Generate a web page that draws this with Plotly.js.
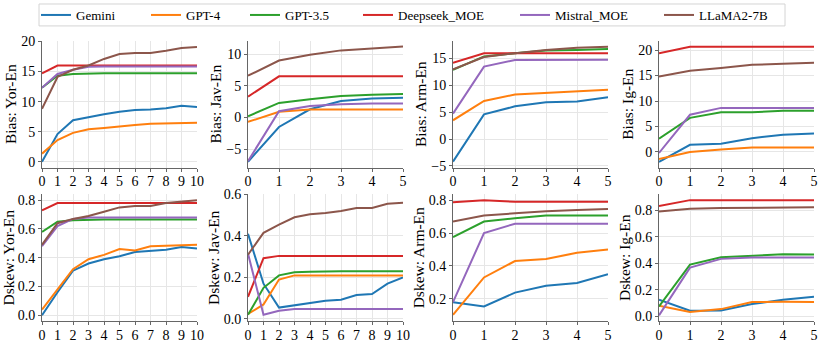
<!DOCTYPE html>
<html>
<head>
<meta charset="utf-8">
<script src="https://cdn.plot.ly/plotly-3.0.1.min.js"></script>
<style>
  body { margin: 0; background: #fff; }
  #chart { width: 822px; height: 342px; }
</style>
</head>
<body>
<div id="chart"></div>
<script>
const models = ['Gemini', 'GPT-4', 'GPT-3.5', 'Deepseek_MOE', 'Mistral_MOE', 'LLaMA2-7B'];
const colors = ['#1f77b4', '#ff7f0e', '#2ca02c', '#d62728', '#9467bd', '#8c564b'];

const steps10 = [0, 1, 2, 3, 4, 5, 6, 7, 8, 9, 10];
const steps5 = [0, 1, 2, 3, 4, 5];

// one row per model, same order as `models`
const biasYorEn = [
  [0, 4.6, 6.9, 7.45, 7.9, 8.3, 8.6, 8.7, 8.9, 9.3, 9.1],
  [1.35, 3.6, 4.8, 5.4, 5.6, 5.9, 6.1, 6.3, 6.4, 6.45, 6.5],
  [12.3, 14.3, 14.6, 14.7, 14.7, 14.7, 14.7, 14.7, 14.7, 14.7, 14.7],
  [14.7, 16, 16, 16, 16, 16, 16, 16, 16, 16, 16],
  [12.3, 14.6, 15.3, 15.8, 15.85, 15.85, 15.85, 15.85, 15.85, 15.85, 15.85],
  [8.8, 14.1, 15.3, 16.0, 17.1, 17.9, 18.1, 18.1, 18.45, 18.9, 19.1]
];

const biasJavEn = [
  [-7.0, -1.5, 1.3, 2.6, 3.0, 3.1],
  [-0.7, 0.9, 1.25, 1.25, 1.25, 1.25],
  [0.2, 2.3, 2.9, 3.4, 3.6, 3.7],
  [3.3, 6.5, 6.5, 6.5, 6.5, 6.5],
  [-6.9, 1.0, 1.8, 2.1, 2.2, 2.2],
  [6.6, 9.0, 9.9, 10.6, 10.9, 11.2]
];

const biasArmEn = [
  [-4.2, 4.6, 6.1, 6.85, 7.0, 7.8],
  [3.5, 7.1, 8.3, 8.6, 9.0, 9.2],
  [12.9, 15.4, 16.0, 16.5, 16.6, 16.8],
  [14.2, 16.0, 16.0, 16.0, 16.0, 16.0],
  [4.75, 13.5, 14.75, 14.8, 14.8, 14.8],
  [13.0, 15.3, 16.0, 16.6, 17.0, 17.2]
];

const biasIgEn = [
  [-1.95, 1.4, 1.6, 2.7, 3.4, 3.6],
  [-1.4, 0, 0.5, 0.9, 0.9, 0.9],
  [2.6, 6.7, 7.8, 7.8, 8.1, 8.1],
  [19.35, 20.65, 20.65, 20.65, 20.65, 20.65],
  [-0.2, 7.3, 8.65, 8.65, 8.65, 8.65],
  [14.8, 15.95, 16.5, 17.1, 17.3, 17.5]
];

const dskewYorEn = [
  [0.0, 0.16, 0.31, 0.36, 0.39, 0.41, 0.44, 0.45, 0.455, 0.475, 0.465],
  [0.04, 0.18, 0.32, 0.39, 0.42, 0.46, 0.45, 0.48, 0.485, 0.49, 0.49],
  [0.58, 0.65, 0.66, 0.665, 0.665, 0.665, 0.665, 0.665, 0.665, 0.665, 0.665],
  [0.73, 0.78, 0.78, 0.78, 0.78, 0.78, 0.78, 0.78, 0.78, 0.78, 0.78],
  [0.48, 0.62, 0.67, 0.68, 0.68, 0.68, 0.68, 0.68, 0.68, 0.68, 0.68],
  [0.49, 0.64, 0.67, 0.69, 0.72, 0.75, 0.76, 0.76, 0.78, 0.79, 0.80]
];

const dskewJavEn = [
  [0.41, 0.17, 0.055, 0.065, 0.075, 0.088, 0.093, 0.115, 0.12, 0.17, 0.2],
  [0.024, 0.07, 0.19, 0.21, 0.21, 0.21, 0.21, 0.21, 0.21, 0.21, 0.21],
  [0.02, 0.15, 0.21, 0.225, 0.228, 0.23, 0.23, 0.23, 0.23, 0.23, 0.23],
  [0.107, 0.293, 0.304, 0.304, 0.304, 0.304, 0.304, 0.304, 0.304, 0.304, 0.304],
  [0.315, 0.02, 0.04, 0.048, 0.048, 0.048, 0.048, 0.048, 0.048, 0.048, 0.048],
  [0.31, 0.415, 0.455, 0.49, 0.505, 0.51, 0.52, 0.535, 0.535, 0.555, 0.56]
];

const dskewArmEn = [
  [0.18, 0.154, 0.238, 0.28, 0.297, 0.35],
  [0.103, 0.33, 0.43, 0.443, 0.48, 0.50],
  [0.576, 0.67, 0.69, 0.707, 0.707, 0.707],
  [0.787, 0.80, 0.79, 0.79, 0.79, 0.79],
  [0.18, 0.60, 0.657, 0.657, 0.657, 0.657],
  [0.67, 0.707, 0.72, 0.733, 0.74, 0.747]
];

const dskewIgEn = [
  [0.125, 0.043, 0.045, 0.093, 0.125, 0.148],
  [0.08, 0.033, 0.055, 0.108, 0.11, 0.108],
  [0.075, 0.39, 0.445, 0.455, 0.467, 0.465],
  [0.83, 0.875, 0.875, 0.875, 0.875, 0.875],
  [0.008, 0.367, 0.433, 0.443, 0.443, 0.443],
  [0.79, 0.81, 0.815, 0.817, 0.82, 0.822]
];

const panels = [
  { title: 'Bias: Yor-En', x: steps10, y: biasYorEn, range: [-0.96, 20.1], dtick: 5 },
  { title: 'Bias: Jav-En', x: steps5, y: biasJavEn, range: [-7.9, 12.1], dtick: 5 },
  { title: 'Bias: Arm-En', x: steps5, y: biasArmEn, range: [-5.3, 18.3], dtick: 5 },
  { title: 'Bias: Ig-En', x: steps5, y: biasIgEn, range: [-3.05, 21.8], dtick: 5 },
  { title: 'Dskew: Yor-En', x: steps10, y: dskewYorEn, range: [-0.04, 0.84], dtick: 0.2, fmt: '.1f' },
  { title: 'Dskew: Jav-En', x: steps10, y: dskewJavEn, range: [-0.01, 0.6], dtick: 0.2, fmt: '.1f' },
  { title: 'Dskew: Arm-En', x: steps5, y: dskewArmEn, range: [0.065, 0.835], dtick: 0.2, fmt: '.1f' },
  { title: 'Dskew: Ig-En', x: steps5, y: dskewIgEn, range: [-0.035, 0.918], dtick: 0.2, fmt: '.1f' }
];

const W = 822, H = 342;
const colDomains = [[42, 197], [248, 403], [453, 608], [659, 814]].map(d => d.map(v => v / W));
const rowDomains = [[175, 302], [21, 148]].map(d => d.map(v => v / H));
// matplotlib-ish legend: one column per model inside a shared box
const legendX = [36, 146, 245, 358, 515, 659];

const font = "'Liberation Serif', 'Times New Roman', serif";
const traces = [];
const layout = {
  width: W,
  height: H,
  margin: { t: 0, b: 0, l: 0, r: 0 },
  paper_bgcolor: '#fff',
  plot_bgcolor: '#fff',
  font: { family: font, color: '#000', size: 14 },
  showlegend: true,
  shapes: [{
    type: 'rect', xref: 'paper', yref: 'paper', layer: 'below',
    x0: 39 / W, x1: 785 / W, y0: 1 - 25 / H, y1: 1 - 3 / H,
    line: { color: '#d4d4d4', width: 1 }, fillcolor: '#fff'
  }]
};

models.forEach((m, k) => {
  layout['legend' + (k ? k + 1 : '')] = {
    orientation: 'h',
    x: legendX[k] / W, y: 1 - 14 / H, xanchor: 'left', yanchor: 'middle',
    bgcolor: 'rgba(0,0,0,0)', borderwidth: 0,
    font: { family: font, size: 13 },
    itemwidth: 30
  };
});

panels.forEach((p, i) => {
  const n = i === 0 ? '' : String(i + 1);
  const row = Math.floor(i / 4), col = i % 4;
  p.y.forEach((vals, m) => {
    traces.push({
      x: p.x, y: vals,
      type: 'scatter', mode: 'lines',
      name: models[m],
      legend: 'legend' + (m ? m + 1 : ''),
      showlegend: i === 0,
      line: { color: colors[m], width: 2 },
      xaxis: 'x' + n, yaxis: 'y' + n,
      hoverinfo: 'skip'
    });
  });
  layout['xaxis' + n] = {
    domain: colDomains[col],
    anchor: 'y' + n,
    range: [0, p.x[p.x.length - 1]],
    dtick: 1,
    showgrid: true, gridcolor: '#e6e6e6', gridwidth: 1,
    zeroline: false,
    showline: true, linecolor: '#666', linewidth: 1,
    ticks: 'outside', ticklen: 3, tickcolor: '#666',
    ticklabelstandoff: -2,
    tickfont: { family: font, size: 14 }
  };
  layout['yaxis' + n] = {
    domain: rowDomains[row],
    anchor: 'x' + n,
    range: p.range,
    dtick: p.dtick,
    tickformat: p.fmt || '',
    showgrid: true, gridcolor: '#e6e6e6', gridwidth: 1,
    zeroline: false,
    showline: true, linecolor: '#666', linewidth: 1,
    ticks: 'outside', ticklen: 3, tickcolor: '#666',
    tickfont: { family: font, size: 14 },
    title: { text: p.title, font: { family: font, size: 15.5 }, standoff: 0 }
  };
});

Plotly.newPlot('chart', traces, layout, { staticPlot: true });
</script>
</body>
</html>
